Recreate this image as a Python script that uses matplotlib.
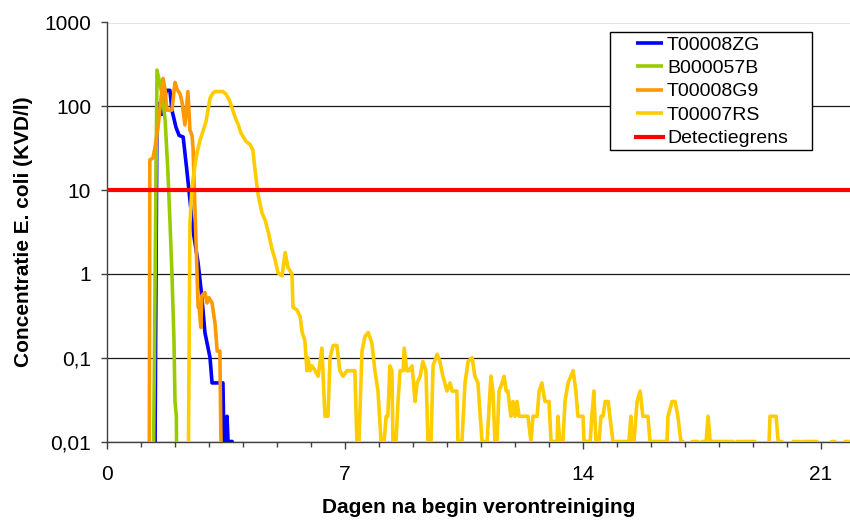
import matplotlib
matplotlib.use("Agg")
import matplotlib.pyplot as plt
from matplotlib.ticker import FixedLocator, MultipleLocator, FuncFormatter
from matplotlib.patches import Rectangle

plt.rcParams['font.family'] = ['Liberation Sans', 'DejaVu Sans']

# Concentration of E. coli (KVD/l) per sampling point, against days since the
# start of the contamination. Samples without detection are stored as 0.001,
# which lies below the axis and is clipped away.
days_zg = [1.40, 1.47, 1.53, 1.62, 1.74, 1.85, 1.91, 2.03, 2.12, 2.24, 2.35,
           2.44, 2.53, 2.68, 2.79, 2.88, 3.03, 3.09, 3.41, 3.44, 3.50, 3.53,
           3.56, 3.68, 3.74]
conc_zg = [0.001, 100, 108, 80, 155, 155, 90, 56, 45, 43, 17,
           7.6, 3.3, 1.35, 0.53, 0.2, 0.10, 0.05, 0.05, 0.01, 0.01, 0.02,
           0.01, 0.01, 0.001]

days_57b = [1.35, 1.47, 1.62, 1.71, 1.79, 1.85, 1.91, 1.97, 2.00, 2.04, 2.06]
conc_57b = [0.001, 270, 140, 68, 17, 4.4, 1.0, 0.16, 0.03, 0.02, 0.001]

days_g9 = [1.24, 1.26, 1.35, 1.41, 1.50, 1.65, 1.71, 1.76, 1.91, 2.00, 2.06,
           2.15, 2.21, 2.29, 2.38, 2.44, 2.50, 2.53, 2.68, 2.71, 2.76, 2.79,
           2.88, 2.94, 3.00, 3.09, 3.18, 3.24, 3.32, 3.38]
conc_g9 = [0.001, 23, 24, 32, 56, 215, 155, 90, 90, 193, 160,
           140, 110, 60, 150, 52, 45, 32, 0.4, 0.4, 0.23, 0.55,
           0.6, 0.45, 0.52, 0.45, 0.25, 0.12, 0.12, 0.001]

days_rs = [2.38, 2.44, 2.50, 2.59, 2.65, 2.74, 2.82, 2.91, 2.97, 3.03, 3.12,
           3.18, 3.41, 3.50, 3.59, 3.68, 3.79, 3.85, 3.94, 4.09, 4.21, 4.29,
           4.35, 4.44, 4.56, 4.65, 4.74, 4.85, 4.94, 5.03, 5.15, 5.24, 5.32,
           5.44, 5.47, 5.59, 5.68, 5.74, 5.82, 5.88, 5.91, 5.97, 6.03, 6.12,
           6.21, 6.32, 6.41, 6.50, 6.56, 6.65, 6.76, 6.85, 6.94, 7.06, 7.29,
           7.35, 7.41, 7.50, 7.59, 7.68, 7.79, 7.88, 7.97, 8.06, 8.15, 8.21,
           8.26, 8.32, 8.38, 8.41, 8.50, 8.56, 8.62, 8.71, 8.74, 8.82, 8.88,
           8.97, 9.00, 9.06, 9.12, 9.21, 9.29, 9.38, 9.44, 9.53, 9.59, 9.71,
           9.79, 9.88, 10.00, 10.09, 10.15, 10.29, 10.32, 10.44, 10.53, 10.62,
           10.74, 10.82, 10.91, 11.03, 11.18, 11.29, 11.35, 11.41, 11.47,
           11.53, 11.62, 11.68, 11.74, 11.79, 11.88, 11.94, 12.00, 12.06,
           12.12, 12.38, 12.47, 12.53, 12.65, 12.71, 12.79, 12.88, 13.00,
           13.06, 13.24, 13.26, 13.32, 13.41, 13.47, 13.56, 13.71, 13.79,
           13.85, 14.00, 14.03, 14.21, 14.26, 14.32, 14.38, 14.47, 14.53,
           14.59, 14.65, 14.74, 14.79, 14.88, 15.35, 15.41, 15.44, 15.50,
           15.59, 15.68, 15.76, 15.91, 15.97, 16.47, 16.50, 16.62, 16.71,
           16.79, 16.88, 16.94, 17.06, 17.21, 17.38, 17.44, 17.50, 17.62,
           17.68, 17.74, 18.41, 18.47, 18.53, 19.06, 19.24, 19.38, 19.50,
           19.68, 19.74, 19.85, 20.00, 20.18, 20.38, 20.44, 20.47, 20.88,
           21.09, 21.32, 21.41, 21.56, 21.71, 21.85]
conc_rs = [0.001, 4, 11, 20, 28, 40, 50, 65, 90, 125, 145,
           150, 150, 140, 120, 95, 70, 62, 48, 38, 35, 30,
           18, 9, 5.3, 4.4, 3.2, 2.0, 1.5, 1.03, 0.95, 1.8, 1.2,
           1.0, 0.40, 0.37, 0.31, 0.2, 0.16, 0.07, 0.1, 0.07, 0.08, 0.07,
           0.06, 0.13, 0.02, 0.02, 0.1, 0.14, 0.14, 0.07, 0.06, 0.07, 0.07,
           0.01, 0.01, 0.12, 0.18, 0.2, 0.15, 0.07, 0.04, 0.01, 0.01, 0.02,
           0.02, 0.08, 0.07, 0.01, 0.01, 0.03, 0.07, 0.07, 0.13, 0.07, 0.07,
           0.08, 0.06, 0.03, 0.05, 0.06, 0.09, 0.07, 0.01, 0.01, 0.08, 0.11,
           0.09, 0.06, 0.04, 0.05, 0.04, 0.04, 0.01, 0.01, 0.05, 0.09,
           0.1, 0.06, 0.05, 0.01, 0.01, 0.06, 0.04, 0.01, 0.01,
           0.04, 0.05, 0.06, 0.04, 0.04, 0.02, 0.03, 0.02, 0.03,
           0.02, 0.02, 0.01, 0.02, 0.02, 0.04, 0.05, 0.03, 0.03,
           0.01, 0.01, 0.02, 0.01, 0.01, 0.03, 0.05, 0.07, 0.04,
           0.02, 0.02, 0.01, 0.01, 0.02, 0.04, 0.01, 0.01, 0.02,
           0.02, 0.03, 0.03, 0.02, 0.01, 0.01, 0.02, 0.01, 0.01,
           0.03, 0.04, 0.02, 0.02, 0.01, 0.01, 0.02, 0.03, 0.03,
           0.02, 0.01, 0.01, 0.001, 0.01, 0.01, 0.001, 0.01, 0.01,
           0.02, 0.01, 0.01, 0.001, 0.01, 0.01, 0.001, 0.001, 0.02,
           0.02, 0.01, 0.01, 0.001, 0.01, 0.01, 0.001, 0.01, 0.01,
           0.001, 0.01, 0.01, 0.001, 0.01, 0.01]

detection_limit = 10

series = [
    ("T00008ZG", days_zg, conc_zg, "#0000FF"),
    ("B000057B", days_57b, conc_57b, "#99CC00"),
    ("T00008G9", days_g9, conc_g9, "#FF9900"),
    ("T00007RS", days_rs, conc_rs, "#FFCC00"),
]

y_ticks = [0.01, 0.1, 1, 10, 100, 1000]
x_ticks = [0, 7, 14, 21]

W, H = 850, 522
fig = plt.figure(figsize=(W / 100, H / 100), dpi=100)
ax_l, ax_r, ax_t, ax_b = 107, 850, 22.5, 441.5
ax = fig.add_axes([ax_l / W, 1 - ax_b / H, (ax_r - ax_l) / W, (ax_b - ax_t) / H])

handles = []
for name, d, c, col in series:
    h, = ax.plot(d, c, color=col, lw=2.6, solid_joinstyle='round',
                 solid_capstyle='butt', label=name, zorder=3)
    handles.append(h)
hr = ax.axhline(detection_limit, color="#FF0000", lw=3.0, label="Detectiegrens",
                zorder=4)
handles.append(hr)

ax.set_yscale('log')
ax.set_ylim(0.01, 1000)
ax.set_xlim(0, (ax_r - ax_l) / 34.0)

ax.yaxis.set_major_locator(FixedLocator(y_ticks))
ax.yaxis.set_minor_locator(FixedLocator([]))
ax.yaxis.set_major_formatter(FuncFormatter(lambda v, p: f"{v:g}".replace('.', ',')))
ax.xaxis.set_major_locator(FixedLocator(x_ticks))
ax.xaxis.set_minor_locator(MultipleLocator(1))

ax.grid(True, axis='y', which='major', color='#1a1a1a', lw=0.9, zorder=1)
ax.set_axisbelow(True)

for s in ('right', 'top'):
    ax.spines[s].set_visible(False)
for s in ('left', 'bottom'):
    ax.spines[s].set_color('#404040')
    ax.spines[s].set_linewidth(1.0)

ax.tick_params(axis='both', which='both', direction='out', colors='#404040',
               labelcolor='black', labelsize=15)
ax.tick_params(axis='y', which='major', length=4.5, width=1.0, pad=7)
ax.tick_params(axis='x', which='major', length=5, width=1.0, pad=12)
ax.tick_params(axis='x', which='minor', length=3.5, width=1.0)

ax.set_xlabel("Dagen na begin verontreiniging", fontsize=15, fontweight='bold')
ax.set_ylabel("Concentratie E. coli (KVD/l)", fontsize=15, fontweight='bold')
ax.xaxis.set_label_coords(0.5, -(498 - ax_b) / (ax_b - ax_t))
ax.yaxis.set_label_coords(-(107 - 33) / (ax_r - ax_l), 0.5)

# Legend box with white fill and thin black border
box = Rectangle((610 / W, 1 - 150 / H), (812 - 610) / W, (150 - 32) / H,
                transform=fig.transFigure, facecolor='white', edgecolor='black',
                lw=1.0, zorder=5)
fig.add_artist(box)
leg = fig.legend(handles=handles, loc='upper left',
                 bbox_to_anchor=(636 / W, 1 - 36 / H), bbox_transform=fig.transFigure,
                 frameon=False, fontsize=14, borderpad=0, borderaxespad=0,
                 handlelength=1.4, handletextpad=0.2, labelspacing=0.3)
leg.set_zorder(6)

fig.savefig("out.png", dpi=100)
